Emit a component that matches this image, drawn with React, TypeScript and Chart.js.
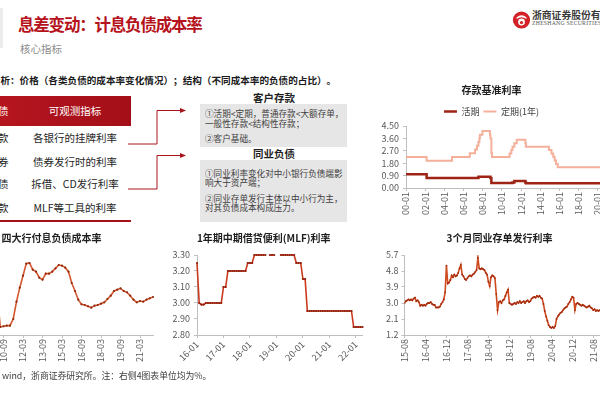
import React, { useEffect, useRef } from 'react';
import { Chart, registerables } from 'chart.js';

Chart.register(...registerables);

const FONT = '"Noto Sans CJK SC", "Noto Sans", sans-serif';
Chart.defaults.font.family = FONT;
Chart.defaults.color = '#595959';

// ---------- 存款基准利率 (rate change points, decimal years) ----------
const demandYears = [2000, 2002.15, 2007.55, 2008.8, 2008.9, 2011.1, 2011.3, 2012.45, 2012.5, 2022];
const demandRates = [0.99, 0.72, 0.81, 0.72, 0.36, 0.4, 0.5, 0.4, 0.35, 0.35];
const timeYears = [2000, 2002.15, 2004.8, 2006.65, 2007.2, 2007.4, 2007.55, 2007.65, 2007.7, 2007.97, 2008.75, 2008.8, 2008.9, 2008.97, 2010.8, 2010.98, 2011.1, 2011.3, 2011.55, 2012.45, 2012.5, 2014.9, 2015.17, 2015.36, 2015.5, 2015.65, 2015.82, 2022];
const timeRates = [2.25, 1.98, 2.25, 2.52, 2.79, 3.06, 3.33, 3.6, 3.87, 4.14, 3.87, 3.6, 2.52, 2.25, 2.5, 2.75, 3.0, 3.25, 3.5, 3.25, 3.0, 2.75, 2.5, 2.25, 2.0, 1.75, 1.5, 1.5];

// ---------- 四大行付息负债成本率 (quarterly) ----------
const bankQuarters = [
  '09-03', '09-06', '09-09', '09-12', '10-03', '10-06', '10-09', '10-12', '11-03', '11-06', '11-09', '11-12',
  '12-03', '12-06', '12-09', '12-12', '13-03', '13-06', '13-09', '13-12', '14-03', '14-06', '14-09', '14-12',
  '15-03', '15-06', '15-09', '15-12', '16-03', '16-06', '16-09', '16-12', '17-03', '17-06', '17-09', '17-12',
  '18-03', '18-06', '18-09', '18-12', '19-03', '19-06', '19-09', '19-12', '20-03', '20-06', '20-09', '20-12',
  '21-03', '21-06', '21-09', '21-12', '22-03',
];
const bankCost = [
  2.3, 2.15, 2.05, 1.98, 1.87, 1.32, 1.33, 1.34, 1.34, 1.44, 1.7, 1.91,
  2.09, 2.27, 2.28, 2.18, 2.15, 2.06, 2.03, 2.12, 2.12, 2.15, 2.2, 2.25,
  2.24, 2.21, 2.15, 1.98, 1.86, 1.73, 1.66, 1.65, 1.63, 1.61, 1.64, 1.65,
  1.67, 1.69, 1.74, 1.79, 1.86, 1.88, 1.9, 1.86, 1.84, 1.79, 1.73, 1.69,
  1.71, 1.7, 1.73, 1.75, 1.77,
];

// ---------- MLF 1年期 (monthly from 2016-01) ----------
const mlfStart = { year: 2016, month: 1 };
const mlfRates: (number | null)[] = [
  3.25, 3.0, 2.99, 2.99, 3.0, 3.0, 3.0, 3.0, 3.0, 3.0, 3.0, 3.0,
  3.1, 3.1, 3.2, 3.2, 3.2, 3.2, 3.2, 3.2, 3.2, 3.2, 3.2, 3.25,
  3.25, 3.25, 3.3, 3.3, 3.3, 3.3, 3.3, 3.3, null, 3.3, 3.3, 3.3,
  null, null, 3.3, 3.3, 3.3, 3.3, 3.3, 3.3, 3.3, 3.25, 3.25, 3.25,
  3.15, 3.15, 2.95, 2.95, 2.95, 2.95, 2.95, 2.95, 2.95, 2.95, 2.95, 2.95,
  2.95, 2.95, 2.95, 2.95, 2.95, 2.95, 2.95, 2.95, 2.95, 2.95, 2.95, 2.85,
  2.85, 2.85, 2.85, 2.85,
];

// ---------- 3个月同业存单发行利率 (half-monthly readings from 2015-08) ----------
const cdStart = { year: 2015, month: 8 };
const cdRates = [
  3.0, 3.1, 3.15, 3.2, 3.15, 3.2, 3.15, 3.25, 3.3, 3.1, 3.15, 3.05,
  2.85, 2.9, 2.85, 2.9, 2.85, 2.95, 3.0, 3.0, 3.05, 2.95, 2.9, 2.9,
  2.75, 2.75, 2.75, 2.8, 2.95, 3.05, 3.2, 3.6, 5.1, 4.1, 4.15, 4.3,
  4.55, 4.45, 4.6, 4.5, 4.55, 4.7, 4.95, 5.15, 4.6, 4.5, 4.35, 4.3,
  4.4, 4.5, 4.55, 4.5, 4.6, 4.65, 4.75, 4.85, 5.55, 4.95, 4.9, 4.95,
  4.9, 4.85, 4.7, 4.6, 4.2, 3.95, 4.45, 4.55, 4.5, 4.4, 3.5, 2.6,
  3.05, 3.1, 3.0, 3.15, 3.2, 3.4, 3.6, 3.75, 3.0, 2.95, 2.9, 2.95,
  3.0, 2.95, 3.05, 3.0, 3.1, 3.0, 3.05, 3.1, 3.0, 3.1, 3.15, 3.05,
  3.1, 3.25, 3.3, 3.35, 3.3, 3.4, 3.35, 3.4, 3.3, 3.25, 2.95, 2.55,
  2.25, 2.0, 1.75, 1.65, 1.6, 1.65, 1.6, 1.7, 2.1, 2.25, 2.35, 2.45,
  2.5, 2.6, 2.7, 2.75, 2.8, 2.95, 3.05, 3.2, 3.35, 3.3, 2.6, 2.95,
  3.0, 2.95, 2.9, 2.85, 2.9, 2.85, 2.8, 2.75, 2.8, 2.85, 2.75, 2.7,
  2.6, 2.65, 2.55, 2.6, 2.55, 2.6, 2.65, 2.6, 2.55, 2.5, 2.45, 2.5,
  2.45, 2.4, 2.4, 2.35, 2.35,
];

const two = (n: number) => String(n).padStart(2, '0');
const monthLabel = (start: { year: number; month: number }, m: number) => {
  const t = start.year * 12 + (start.month - 1) + Math.round(m);
  return `${two(Math.floor(t / 12) % 100)}-${two((t % 12) + 1)}`;
};
const mlfMonths = mlfRates.map((_, i) => monthLabel(mlfStart, i));

const AXIS = '#bfbfbf';
const TICK = '#595959';

const gridOpts = { display: true, drawOnChartArea: false, drawTicks: true, tickLength: 3, color: AXIS };
const borderOpts = { display: true, color: AXIS, width: 1 };
const tickFont = { size: 9, family: FONT };

const titleOpts = (text: string, top: number, bottom: number) => ({
  display: true,
  text,
  color: '#1f1f1f',
  font: { size: 10, weight: 'bold' as const, family: FONT },
  padding: { top, bottom },
});

function depositConfig(): any {
  return {
    type: 'line',
    data: {
      datasets: [
        {
          label: '活期',
          data: demandYears.map((x, i) => ({ x, y: demandRates[i] })),
          borderColor: '#9e2416',
          backgroundColor: '#9e2416',
          borderWidth: 2.5,
          pointRadius: 0,
          stepped: true,
        },
        {
          label: '定期(1年)',
          data: timeYears.map((x, i) => ({ x, y: timeRates[i] })),
          borderColor: '#f4b09b',
          backgroundColor: '#f4b09b',
          borderWidth: 2,
          pointRadius: 0,
          stepped: true,
        },
      ],
    },
    options: {
      responsive: false,
      animation: false,
      layout: { padding: { right: 25 } },
      plugins: {
        title: titleOpts('存款基准利率', 0, 7),
        legend: {
          display: true,
          labels: {
            usePointStyle: true,
            pointStyle: 'line',
            pointStyleWidth: 13,
            boxWidth: 13,
            font: { size: 9, family: FONT },
            color: '#404040',
            padding: 4,
          },
        },
        tooltip: { enabled: false },
      },
      scales: {
        x: {
          type: 'linear',
          min: 2000,
          max: 2022,
          grid: gridOpts,
          border: borderOpts,
          ticks: {
            stepSize: 2,
            autoSkip: false,
            minRotation: 90,
            maxRotation: 90,
            padding: 1,
            font: tickFont,
            color: TICK,
            callback: (v: number) => `${two(Math.round(v) % 100)}-01`,
          },
          afterFit: (s: any) => { s.height = 30; },
        },
        y: {
          min: 0,
          max: 4.5,
          grid: gridOpts,
          border: borderOpts,
          ticks: {
            stepSize: 0.9, autoSkip: false, padding: 4, font: tickFont, color: TICK,
            callback: (v: number) => Number(v).toFixed(2),
          },
          afterFit: (s: any) => { s.width = 40; },
        },
      },
    },
  };
}

function bankConfig(): any {
  return {
    type: 'line',
    data: {
      labels: bankQuarters,
      datasets: [
        {
          label: '四大行付息负债成本率',
          data: bankCost,
          borderColor: '#d4582c',
          borderWidth: 1.6,
          pointRadius: 1.1,
          pointBorderWidth: 0,
          pointBackgroundColor: '#8f2a12',
          tension: 0,
        },
      ],
    },
    options: {
      responsive: false,
      animation: false,
      layout: { padding: { right: 7 } },
      plugins: { title: titleOpts('四大行付息负债成本率', 3, 11), legend: { display: false }, tooltip: { enabled: false } },
      scales: {
        x: {
          grid: gridOpts,
          border: borderOpts,
          ticks: {
            autoSkip: false,
            minRotation: 90,
            maxRotation: 90,
            padding: 1,
            font: tickFont,
            color: TICK,
            callback: (_v: any, i: number) => (i % 6 === 0 ? bankQuarters[i] : null),
          },
          afterFit: (s: any) => { s.height = 30; },
        },
        y: {
          min: 1.2,
          max: 2.4,
          grid: gridOpts,
          border: borderOpts,
          ticks: { stepSize: 0.2, autoSkip: false, font: tickFont, color: TICK, callback: (v: number) => Number(v).toFixed(2) },
          afterFit: (s: any) => { s.width = 34; },
        },
      },
    },
  };
}

function mlfConfig(): any {
  return {
    type: 'line',
    data: {
      labels: mlfMonths,
      datasets: [
        {
          label: 'MLF',
          data: mlfRates,
          borderColor: '#c8391d',
          borderWidth: 1.6,
          pointRadius: 1.1,
          pointBorderWidth: 0,
          pointBackgroundColor: '#8f1e0e',
          spanGaps: false,
          clip: 4,
        },
      ],
    },
    options: {
      responsive: false,
      animation: false,
      layout: { padding: { right: 16.5 } },
      plugins: { title: titleOpts('1年期中期借贷便利(MLF)利率', 3, 11), legend: { display: false }, tooltip: { enabled: false } },
      scales: {
        x: {
          grid: gridOpts,
          border: borderOpts,
          ticks: {
            autoSkip: false,
            minRotation: 45,
            maxRotation: 45,
            padding: 1,
            font: tickFont,
            color: TICK,
            callback: (_v: any, i: number) => (mlfMonths[i].endsWith('-01') ? mlfMonths[i] : null),
          },
          afterFit: (s: any) => { s.height = 35; },
        },
        y: {
          min: 2.8,
          max: 3.3,
          grid: gridOpts,
          border: borderOpts,
          ticks: {
            stepSize: 0.1, autoSkip: false, padding: 4, font: tickFont, color: TICK,
            callback: (v: number) => Number(v).toFixed(2),
          },
          afterFit: (s: any) => { s.width = 32; },
        },
      },
    },
  };
}

function cdConfig(): any {
  return {
    type: 'line',
    data: {
      datasets: [
        {
          label: '3个月同业存单发行利率',
          data: cdRates.map((y, i) => ({ x: i / 2, y })),
          borderColor: '#cf4a1e',
          borderWidth: 1.6,
          pointRadius: 0.9,
          pointBorderWidth: 0,
          pointBackgroundColor: '#a02a10',
        },
      ],
    },
    options: {
      responsive: false,
      animation: false,
      layout: { padding: { right: 7 } },
      plugins: { title: titleOpts('3个月同业存单发行利率', 3, 11), legend: { display: false }, tooltip: { enabled: false } },
      scales: {
        x: {
          type: 'linear',
          min: 0,
          max: 80,
          grid: gridOpts,
          border: borderOpts,
          ticks: {
            stepSize: 8,
            autoSkip: false,
            minRotation: 90,
            maxRotation: 90,
            padding: 1,
            font: tickFont,
            color: TICK,
            callback: (v: number) => monthLabel(cdStart, v),
          },
          afterFit: (s: any) => { s.height = 30; },
        },
        y: {
          min: 1.2,
          max: 5.7,
          grid: gridOpts,
          border: borderOpts,
          ticks: {
            stepSize: 0.9, autoSkip: false, padding: 3, font: tickFont, color: TICK,
            callback: (v: number) => Number(v).toFixed(1),
          },
          afterFit: (s: any) => { s.width = 24.5; },
        },
      },
    },
  };
}

function ChartBox({ left, top, width, height, make }: { left: number; top: number; width: number; height: number; make: () => any }) {
  const ref = useRef<HTMLCanvasElement>(null);
  useEffect(() => {
    const chart = new Chart(ref.current as HTMLCanvasElement, make());
    return () => chart.destroy();
  }, []);
  return (
    <canvas
      ref={ref}
      width={width}
      height={height}
      style={{ position: 'absolute', left, top, width, height }}
    />
  );
}

function Txt({
  x, y, size, children, color = '#262626', bold = false, align = 'left', ls = 0, family = FONT, full = false,
}: {
  x: number; y: number; size: number; children: React.ReactNode; color?: string; bold?: boolean;
  align?: 'left' | 'center' | 'right'; ls?: number; family?: string; full?: boolean;
}) {
  const style: any = {
    position: 'absolute',
    top: y - size * 0.55,
    fontSize: size,
    lineHeight: `${size}px`,
    color,
    fontWeight: bold ? 700 : 400,
    whiteSpace: 'nowrap',
    fontFamily: family,
    letterSpacing: ls,
  };
  if (full) style.textSpacingTrim = 'space-all';
  if (align === 'left') style.left = x;
  else if (align === 'center') {
    style.left = x;
    style.transform = 'translateX(-50%)';
  } else style.right = 600 - x;
  return <div style={style}>{children}</div>;
}

const rows = [
  { left: '存款', right: '各银行的挂牌利率', y: 139 },
  { left: '债券', right: '债券发行时的利率', y: 162.5 },
  { left: '同业负债', right: '拆借、CD发行利率', y: 185 },
  { left: '央行借款', right: 'MLF等工具的利率', y: 208.5 },
];

export default function App() {
  return (
    <div
      style={{
        position: 'absolute', left: 0, top: 0, width: 600, height: 400, overflow: 'hidden',
        background: '#ffffff', fontFamily: FONT,
      }}
    >
      {/* header */}
      <div style={{ position: 'absolute', left: 0, top: 8, width: 3, height: 40, background: '#ececec' }} />
      <Txt x={18} y={25} size={16.5} bold color="#b5121b" ls={-1.2}>息差变动：计息负债成本率</Txt>
      <Txt x={20} y={50} size={10.5} color="#8c8c8c">核心指标</Txt>

      {/* logo */}
      <svg style={{ position: 'absolute', left: 511, top: 9 }} width={22} height={22} viewBox="0 0 22 22">
        <circle cx={10.5} cy={11} r={8.6} fill="#d42027" />
        <path d="M5.5 8.5 Q10.5 4 15.5 8.5 L15.5 10 Q10.5 6.5 5.5 10 Z" fill="#ffffff" />
        <circle cx={10.5} cy={13} r={3.4} fill="#ffffff" />
        <circle cx={10.5} cy={13.6} r={1.6} fill="#d42027" />
      </svg>
      <Txt x={532} y={16} size={9.8} bold color="#3a3a3a">浙商证券股份有限公司</Txt>
      <Txt x={532} y={24.5} size={5.8} color="#555555" family='"Liberation Serif", serif' ls={0.2}>ZHESHANG SECURITIES</Txt>

      {/* intro line */}
      <Txt x={-9.2} y={81} size={9.6} bold color="#1a1a1a" full>分析：价格（各类负债的成本率变化情况）；结构（不同成本率的负债的占比）。</Txt>

      {/* table */}
      <div style={{ position: 'absolute', left: 0, top: 96, width: 131, height: 30, background: 'linear-gradient(90deg, #b5151f, #a30f18)' }} />
      <Txt x={8.5} y={111.5} size={10.5} color="#ffffff" align="right">负债</Txt>
      <Txt x={75} y={111.5} size={10.5} color="#ffffff" align="center">可观测指标</Txt>
      {rows.map((r) => (
        <React.Fragment key={r.right}>
          <Txt x={8.5} y={r.y} size={10.5} color="#262626" align="right">{r.left}</Txt>
          <Txt x={75} y={r.y} size={10.5} color="#262626" align="center">{r.right}</Txt>
        </React.Fragment>
      ))}
      <div style={{ position: 'absolute', left: 0, top: 220, width: 131, height: 1.5, background: '#a50f17' }} />

      {/* connectors */}
      <svg style={{ position: 'absolute', left: 0, top: 0 }} width={600} height={400}>
        <polyline points="128,144 157,144 157,110.5 181,110.5" fill="none" stroke="#a8141c" strokeWidth={1} />
        <polygon points="180,108 186,110.5 180,113" fill="#a8141c" />
        <polyline points="128,189 157,189 157,155.5 181,155.5" fill="none" stroke="#a8141c" strokeWidth={1} />
        <polygon points="180,153 186,155.5 180,158" fill="#a8141c" />
      </svg>

      {/* gray boxes */}
      <Txt x={274} y={98.3} size={10.5} bold color="#1f1f1f" align="center">客户存款</Txt>
      <div style={{ position: 'absolute', left: 200, top: 103.5, width: 147, height: 43.5, background: '#e7e6e6' }} />
      <Txt x={205} y={113.3} size={8.6} color="#404040">①活期&lt;定期，普通存款&lt;大额存单，</Txt>
      <Txt x={205} y={123.3} size={8.6} color="#404040">一般性存款&lt;结构性存款；</Txt>
      <Txt x={205} y={138.3} size={8.6} color="#404040">②客户基础。</Txt>

      <Txt x={274} y={155} size={10.5} bold color="#1f1f1f" align="center">同业负债</Txt>
      <div style={{ position: 'absolute', left: 200, top: 160, width: 147, height: 62, background: '#e7e6e6' }} />
      <Txt x={205} y={173.3} size={8.6} color="#404040">①同业利率变化对中小银行负债端影</Txt>
      <Txt x={205} y={183} size={8.6} color="#404040">响大于资产端；</Txt>
      <Txt x={205} y={198.3} size={8.6} color="#404040">②同业存单发行主体以中小行为主，</Txt>
      <Txt x={205} y={208} size={8.6} color="#404040">对其负债成本构成压力。</Txt>

      {/* charts */}
      <ChartBox left={366} top={84} width={276} height={134} make={depositConfig} />
      <ChartBox left={-50} top={229} width={210} height={136} make={bankConfig} />
      <ChartBox left={165} top={229} width={214} height={141} make={mlfConfig} />
      <ChartBox left={380} top={229} width={246} height={136} make={cdConfig} />

      {/* footer */}
      <Txt x={2} y={377} size={8.8} color="#404040">wind，浙商证券研究所。注：右侧4图表单位均为%。</Txt>
    </div>
  );
}
